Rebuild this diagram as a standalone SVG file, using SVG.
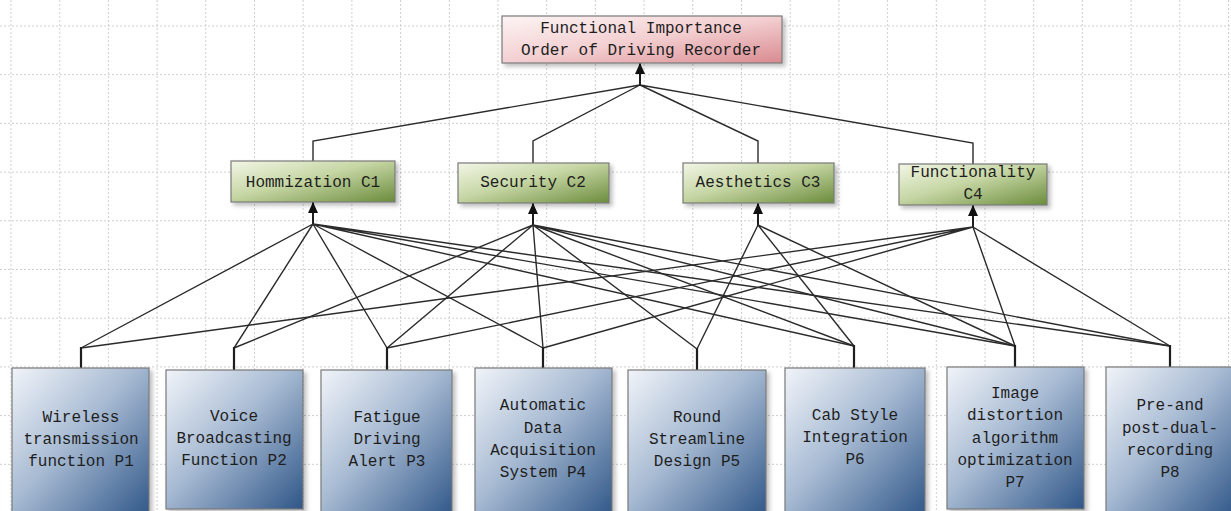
<svg xmlns="http://www.w3.org/2000/svg" width="1231" height="511" viewBox="0 0 1231 511">
<style>
.grid{fill:none;stroke:#cfcfcf;stroke-width:1;stroke-dasharray:2 2}
.box{stroke:#7a7a7a;stroke-width:1.2;filter:url(#sh)}
.t{font-family:"Liberation Mono","DejaVu Sans Mono",monospace;font-size:16px;fill:#1e1e1e;text-anchor:middle}
.c{fill:none;stroke:#2b2b2b;stroke-width:1.4}
.stub{fill:none;stroke:#1e1e1e;stroke-width:2.2}
.arr{fill:none;stroke:#1e1e1e;stroke-width:2;marker-end:url(#ah)}
</style>
<defs>
<linearGradient id="gPink" x1="0" y1="0" x2="1" y2="1">
<stop offset="0" stop-color="#fdf4f4"/><stop offset="0.5" stop-color="#f3cfd1"/><stop offset="1" stop-color="#d98a90"/>
</linearGradient>
<linearGradient id="gGreen" x1="0" y1="0" x2="1" y2="1">
<stop offset="0" stop-color="#f2f6e6"/><stop offset="0.45" stop-color="#c6d6a4"/><stop offset="1" stop-color="#6b8c3c"/>
</linearGradient>
<linearGradient id="gBlue" x1="0" y1="0" x2="1" y2="1">
<stop offset="0" stop-color="#f1f4f9"/><stop offset="0.45" stop-color="#a8bbd3"/><stop offset="1" stop-color="#2f5688"/>
</linearGradient>
<filter id="sh" x="-10%" y="-10%" width="130%" height="130%">
<feDropShadow dx="3" dy="3" stdDeviation="2" flood-color="#000" flood-opacity="0.25"/>
</filter>
<marker id="ah" markerUnits="userSpaceOnUse" markerWidth="12" markerHeight="12" refX="11" refY="5" orient="auto">
<path d="M0,0 L11,5 L0,10 z" fill="#111"/>
</marker>
</defs>
<rect width="1231" height="511" fill="#ffffff"/>
<path class="grid" d="M11,0V511 M59.7,0V511 M108.4,0V511 M157.1,0V511 M205.8,0V511 M254.5,0V511 M303.2,0V511 M351.9,0V511 M400.6,0V511 M449.3,0V511 M498,0V511 M546.7,0V511 M595.4,0V511 M644.1,0V511 M692.8,0V511 M741.5,0V511 M790.2,0V511 M838.9,0V511 M887.6,0V511 M936.3,0V511 M985,0V511 M1033.7,0V511 M1082.4,0V511 M1131.1,0V511 M1179.8,0V511 M1228.5,0V511 M0,26H1231 M0,74.7H1231 M0,123.4H1231 M0,172.1H1231 M0,220.8H1231 M0,269.5H1231 M0,318.2H1231 M0,366.9H1231 M0,415.6H1231 M0,464.3H1231"/>

<g id="connectors">
<path class="c" d="M640,85 L313,141 V161 M640,85 L533,141 V163 M640,85 L758,141 V163 M640,85 L973,143 V164"/>
<line class="arr" x1="640" y1="86" x2="640" y2="63"/>
<line class="arr" x1="313" y1="225" x2="313" y2="202"/>
<line class="arr" x1="533" y1="226" x2="533" y2="203"/>
<line class="arr" x1="758" y1="226" x2="758" y2="203"/>
<line class="arr" x1="973" y1="228" x2="973" y2="205"/>
<path class="c" d="M313,224 L81,348 M313,224 L234,348 M313,224 L387,348 M313,224 L543,348 M313,224 L854,346 M313,224 L1015,346 M313,224 L1170,346"/>
<path class="c" d="M533,225 L234,348 M533,225 L387,348 M533,225 L543,348 M533,225 L697,349 M533,225 L854,346 M533,225 L1015,346 M533,225 L1170,346"/>
<path class="c" d="M758,225 L697,349 M758,225 L854,346 M758,225 L1015,346"/>
<path class="c" d="M973,227 L81,348 M973,227 L387,348 M973,227 L543,348 M973,227 L1015,346 M973,227 L1170,346"/>
<path class="stub" d="M81,347 V369 M234,347 V371 M387,347 V371 M543,347 V369 M697,348 V371 M854,345 V369 M1015,345 V368 M1170,345 V368"/>
</g>

<g id="top">
<rect class="box" x="502" y="16" width="280" height="47" fill="url(#gPink)"/>
<text class="t" x="641" y="33">Functional Importance</text>
<text class="t" x="641" y="55">Order of Driving Recorder</text>
</g>

<g id="C1">
<rect class="box" x="231" y="161" width="164" height="41" fill="url(#gGreen)"/>
<text class="t" x="313" y="187">Hommization C1</text>
</g>
<g id="C2">
<rect class="box" x="458" y="163" width="151" height="40" fill="url(#gGreen)"/>
<text class="t" x="533" y="187">Security C2</text>
</g>
<g id="C3">
<rect class="box" x="683" y="163" width="151" height="40" fill="url(#gGreen)"/>
<text class="t" x="758" y="187">Aesthetics C3</text>
</g>
<g id="C4">
<rect class="box" x="899" y="164" width="148" height="41" fill="url(#gGreen)"/>
<text class="t" x="973" y="177">Functionality</text>
<text class="t" x="973" y="199">C4</text>
</g>

<g id="P1">
<rect class="box" x="12" y="368" width="137" height="150" fill="url(#gBlue)"/>
<text class="t" x="81" y="422">Wireless</text>
<text class="t" x="81" y="444">transmission</text>
<text class="t" x="81" y="466">function P1</text>
</g>
<g id="P2">
<rect class="box" x="166" y="370" width="137" height="139" fill="url(#gBlue)"/>
<text class="t" x="234" y="421">Voice</text>
<text class="t" x="234" y="443">Broadcasting</text>
<text class="t" x="234" y="465">Function P2</text>
</g>
<g id="P3">
<rect class="box" x="321" y="370" width="131" height="148" fill="url(#gBlue)"/>
<text class="t" x="387" y="422">Fatigue</text>
<text class="t" x="387" y="444">Driving</text>
<text class="t" x="387" y="466">Alert P3</text>
</g>
<g id="P4">
<rect class="box" x="475" y="368" width="137" height="150" fill="url(#gBlue)"/>
<text class="t" x="543" y="410">Automatic</text>
<text class="t" x="543" y="433">Data</text>
<text class="t" x="543" y="455">Acquisition</text>
<text class="t" x="543" y="477">System P4</text>
</g>
<g id="P5">
<rect class="box" x="628" y="370" width="138" height="148" fill="url(#gBlue)"/>
<text class="t" x="697" y="422">Round</text>
<text class="t" x="697" y="444">Streamline</text>
<text class="t" x="697" y="466">Design P5</text>
</g>
<g id="P6">
<rect class="box" x="785" y="368" width="140" height="150" fill="url(#gBlue)"/>
<text class="t" x="855" y="420">Cab Style</text>
<text class="t" x="855" y="442">Integration</text>
<text class="t" x="855" y="464">P6</text>
</g>
<g id="P7">
<rect class="box" x="947" y="367" width="137" height="142" fill="url(#gBlue)"/>
<text class="t" x="1015" y="398">Image</text>
<text class="t" x="1015" y="420">distortion</text>
<text class="t" x="1015" y="443">algorithm</text>
<text class="t" x="1015" y="465">optimization</text>
<text class="t" x="1015" y="487">P7</text>
</g>
<g id="P8">
<rect class="box" x="1106" y="367" width="130" height="150" fill="url(#gBlue)"/>
<text class="t" x="1170" y="410">Pre-and</text>
<text class="t" x="1170" y="433">post-dual-</text>
<text class="t" x="1170" y="455">recording</text>
<text class="t" x="1170" y="477">P8</text>
</g>
</svg>
